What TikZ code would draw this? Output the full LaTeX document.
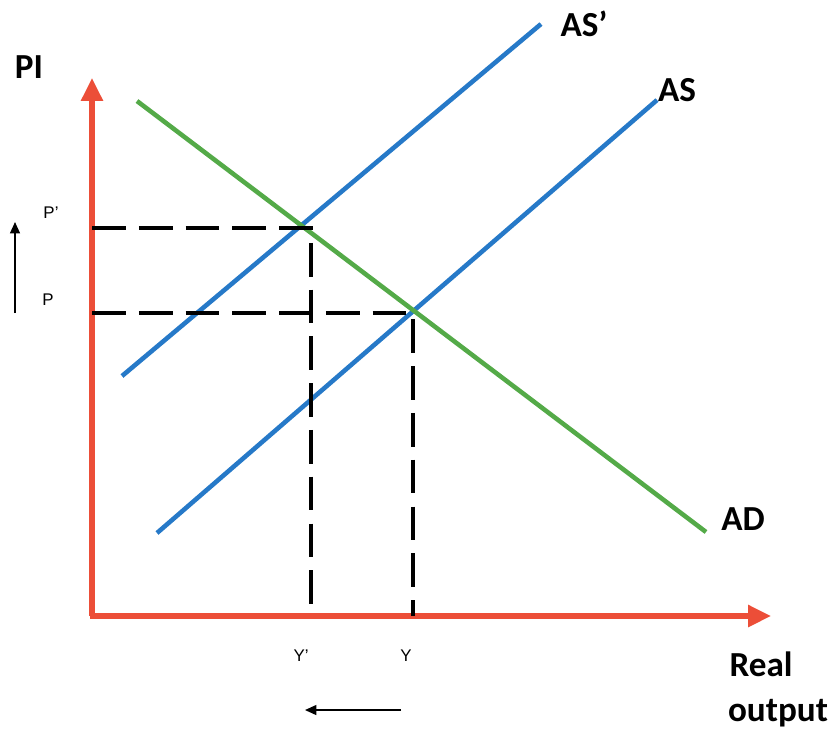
\documentclass[tikz,border=0pt]{standalone}
\usepackage{fontspec}
\setmainfont{Carlito}
\newfontfamily\smallsans{Liberation Sans}
\usetikzlibrary{arrows.meta}

\definecolor{axisred}{RGB}{236,78,56}
\definecolor{asblue}{RGB}{38,121,200}
\definecolor{adgreen}{RGB}{84,170,72}

\begin{document}
\begin{tikzpicture}[
    x=0.01cm, y=-0.01cm,
    axis/.style={draw=axisred, line width=1.45pt,
        -{Triangle[length=6.5pt, width=6pt]}},
    supply/.style={draw=asblue, line width=1.3pt},
    demand/.style={draw=adgreen, line width=1.3pt},
    guide/.style={draw=black, line width=1.15pt,
        dash pattern=on 9.6pt off 3.7pt},
    movearrow/.style={draw=black, line width=0.4pt,
        -{Triangle[length=3.2pt, width=2.8pt]}},
    biglbl/.style={font=\fontsize{10}{12}\selectfont\bfseries, inner sep=0pt},
    smalllbl/.style={font=\smallsans\fontsize{4.8}{5.5}\selectfont, inner sep=0pt}
]
\useasboundingbox (0,0) rectangle (831,729);

% axes
\coordinate (origin) at (92,616);
\coordinate (ytop)   at (92,78);
\coordinate (xend)   at (771,616);
\draw[axis] (origin) -- (ytop);
\draw[axis] ([xshift=-0.7pt]origin) -- (xend);

% curves
\coordinate (asp1) at (122,376);
\coordinate (asp2) at (541,24);
\coordinate (as1)  at (157,533);
\coordinate (as2)  at (657,100);
\coordinate (ad1)  at (137,101);
\coordinate (ad2)  at (706,532);
\draw[supply] (asp1) -- (asp2);
\draw[supply] (as1) -- (as2);
\draw[demand] (ad1) -- (ad2);

% equilibrium guides
\coordinate (pp)   at (92,228);
\coordinate (eqp)  at (311,228);
\coordinate (yp)   at (311,616);
\coordinate (p)    at (92,313);
\coordinate (eq)   at (413,313);
\coordinate (y)    at (413,616);
\draw[guide] (pp) -- (eqp) -- (yp);
\draw[guide] (p) -- (eq) -- (y);

% shift arrows
\coordinate (up1)   at (15,313);
\coordinate (up2)   at (15,222);
\coordinate (left1) at (401,710);
\coordinate (left2) at (305,710);
\draw[movearrow] (up1) -- (up2);
\draw[movearrow] (left1) -- (left2);

% labels
\node[biglbl]   (pi)    at (29,67)   {PI};
\node[biglbl]   (aslbl) at (584,24)  {AS’};
\node[biglbl]   (as)    at (677,90)  {AS};
\node[biglbl]   (ad)    at (743,519) {AD};
\node[biglbl]   (real)  at (761,664) {Real};
\node[biglbl]   (out)   at (778,713) {output};
\node[smalllbl] (plp)   at (51,213)  {P’};
\node[smalllbl] (pl)    at (48,300)  {P};
\node[smalllbl] (ylp)   at (301,656) {Y’};
\node[smalllbl] (yl)    at (406,656) {Y};

\end{tikzpicture}
\end{document}
